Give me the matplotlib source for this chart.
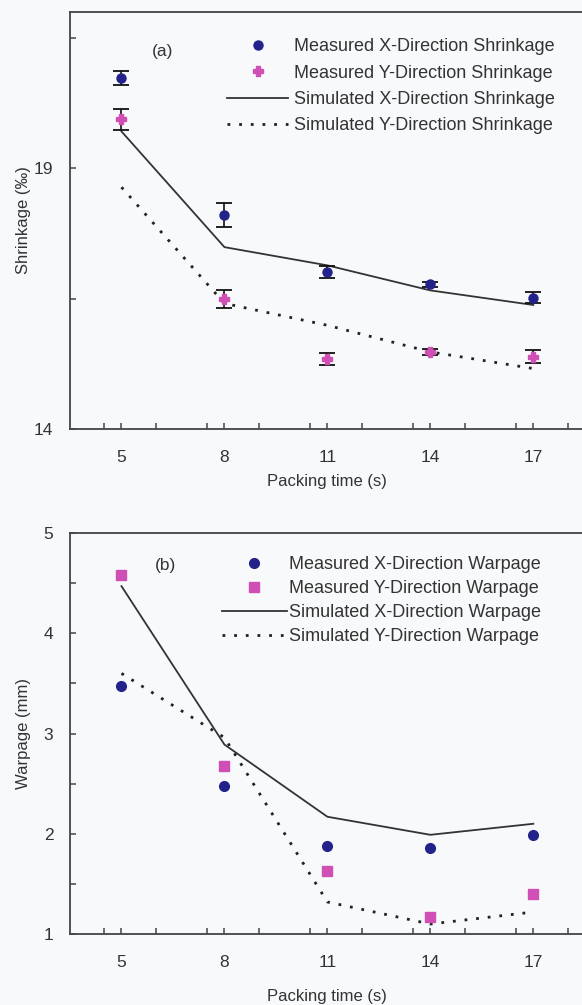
import matplotlib
matplotlib.use("Agg")
import matplotlib.pyplot as plt
from matplotlib.ticker import MultipleLocator, FixedLocator

plt.rcParams['font.family'] = ['Liberation Sans', 'DejaVu Sans']

# ---- data ----
packing_time = [5, 8, 11, 14, 17]
x_ticks = [5, 8, 11, 14, 17]

# Panel (a) shrinkage (per mille)
meas_x_shrink = [20.73, 18.10, 17.01, 16.78, 16.52]
meas_x_shrink_err = [0.13, 0.23, 0.11, 0.05, 0.11]
meas_y_shrink = [19.94, 16.49, 15.34, 15.48, 15.39]
meas_y_shrink_err = [0.20, 0.17, 0.12, 0.06, 0.12]
sim_x_shrink = [19.71, 17.49, 17.14, 16.66, 16.38]
sim_y_shrink = [18.64, 16.41, 15.99, 15.48, 15.16]

# Panel (b) warpage (mm)
meas_x_warp = [3.47, 2.48, 1.88, 1.86, 1.99]
meas_y_warp = [4.58, 2.68, 1.63, 1.17, 1.40]
sim_x_warp = [4.47, 2.89, 2.17, 1.99, 2.10]
sim_y_warp = [3.60, 2.96, 1.32, 1.10, 1.22]

# ---- style ----
BG = '#f8f9fb'
TXT = '#333333'
SPINE = '#444444'
BLUE = '#22228a'
PINK = '#cf4fb4'
LINEC = '#333333'
DOT = (0, (1, 3.2))

fig = plt.figure(figsize=(5.82, 10.05), dpi=100, facecolor=BG)

ax1 = fig.add_axes([0.1203, 0.5731, 0.8845, 0.4149], facecolor=BG)
ax2 = fig.add_axes([0.1203, 0.0706, 0.8845, 0.3990], facecolor=BG)


def style_axis(ax, xlabelpad):
    for s in ax.spines.values():
        s.set_color(SPINE)
        s.set_linewidth(1.3)
    ax.set_xlim(3.5, 18.5)
    ax.xaxis.set_major_locator(FixedLocator(x_ticks))
    ax.xaxis.set_minor_locator(MultipleLocator(1.5))
    ax.tick_params(axis='both', which='both', direction='in', colors=SPINE,
                   labelcolor=TXT, labelsize=12.5, width=1.1)
    ax.tick_params(axis='both', which='major', length=4.5)
    ax.tick_params(axis='both', which='minor', length=4.5)
    ax.tick_params(axis='x', which='major', pad=15)
    ax.tick_params(axis='y', which='major', pad=12)
    ax.set_xlabel('Packing time (s)', fontsize=12, color=TXT, labelpad=xlabelpad)


# ---- panel (a) ----
style_axis(ax1, 6.5)
ax1.set_ylim(14, 22)
ax1.yaxis.set_major_locator(FixedLocator([14, 19]))
ax1.yaxis.set_minor_locator(FixedLocator([16.5, 21.5]))
ax1.set_ylabel('Shrinkage (‰)', fontsize=12, color=TXT, labelpad=2)

ax1.errorbar(packing_time, meas_x_shrink, yerr=meas_x_shrink_err, fmt='none',
             ecolor='#111111', elinewidth=1.2, capsize=6, capthick=1.3, zorder=3)
ax1.errorbar(packing_time, meas_y_shrink, yerr=meas_y_shrink_err, fmt='none',
             ecolor='#111111', elinewidth=1.2, capsize=6, capthick=1.3, zorder=3)
h1, = ax1.plot(packing_time, meas_x_shrink, linestyle='none', marker='o',
               ms=6.5, color=BLUE, mec=BLUE, zorder=4,
               label='Measured X-Direction Shrinkage')
h2, = ax1.plot(packing_time, meas_y_shrink, linestyle='none', marker='P',
               ms=7, color=PINK, mec=PINK, zorder=4,
               label='Measured Y-Direction Shrinkage')
h3, = ax1.plot(packing_time, sim_x_shrink, linestyle='-', lw=1.3, color=LINEC,
               zorder=2, label='Simulated X-Direction Shrinkage')
h4, = ax1.plot(packing_time, sim_y_shrink, linestyle=DOT, lw=2.0, color='#222222',
               zorder=2, label='Simulated Y-Direction Shrinkage')
leg1 = ax1.legend(handles=[h1, h2, h3, h4], loc='upper left',
                  bbox_to_anchor=(0.305, 0.937), frameon=False, fontsize=13,
                  handlelength=3.4, handletextpad=0.3, labelspacing=0.52,
                  borderpad=0, borderaxespad=0, labelcolor=TXT)
ax1.text(0.179, 0.906, '(a)', transform=ax1.transAxes, fontsize=12.5,
         color=TXT, ha='center', va='center')

# ---- panel (b) ----
style_axis(ax2, 14)
ax2.set_ylim(1, 5)
ax2.yaxis.set_major_locator(MultipleLocator(1))
ax2.yaxis.set_minor_locator(MultipleLocator(0.5))
ax2.set_ylabel('Warpage (mm)', fontsize=12, color=TXT, labelpad=9)

g1, = ax2.plot(packing_time, meas_x_warp, linestyle='none', marker='o',
               ms=7, color=BLUE, mec=BLUE, zorder=4,
               label='Measured X-Direction Warpage')
g2, = ax2.plot(packing_time, meas_y_warp, linestyle='none', marker='s',
               ms=7, color=PINK, mec=PINK, zorder=4,
               label='Measured Y-Direction Warpage')
g3, = ax2.plot(packing_time, sim_x_warp, linestyle='-', lw=1.3, color=LINEC,
               zorder=2, label='Simulated X-Direction Warpage')
g4, = ax2.plot(packing_time, sim_y_warp, linestyle=DOT, lw=2.0, color='#222222',
               zorder=2, label='Simulated Y-Direction Warpage')
leg2 = ax2.legend(handles=[g1, g2, g3, g4], loc='upper left',
                  bbox_to_anchor=(0.295, 0.943), frameon=False, fontsize=13,
                  handlelength=3.6, handletextpad=0.1, labelspacing=0.39,
                  borderpad=0, borderaxespad=0, labelcolor=TXT)
ax2.text(0.186, 0.92, '(b)', transform=ax2.transAxes, fontsize=12.5,
         color=TXT, ha='center', va='center')

fig.savefig('out.png', dpi=100, facecolor=BG)
